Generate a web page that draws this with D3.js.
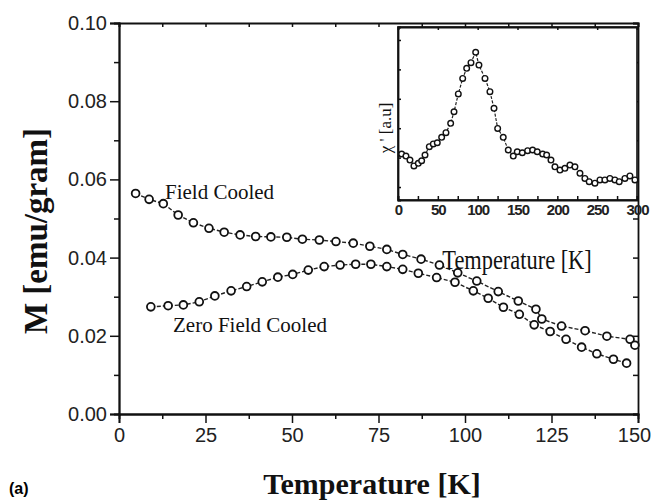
<!DOCTYPE html>
<html>
<head>
  <meta charset="utf-8">
  <title>Magnetization vs Temperature</title>
  <script src="https://d3js.org/d3.v7.min.js"></script>
  <style>
    body { margin: 0; background: #fff; }
    .tick-label { font-family: "Liberation Sans", Arial, sans-serif; fill: #222; }
    .serif { font-family: "Liberation Serif", "DejaVu Serif", serif; fill: #111; }
  </style>
</head>
<body>
  <div id="vis"></div>
  <script>
    const width = 652
    const height = 500

    // main panel: field cooled / zero field cooled
    const fcTemp = [4.8, 8.7, 12.8, 17.1, 21.5, 26.0, 30.4, 35.0, 39.5, 43.9, 48.5, 53.0, 57.9, 62.7, 67.7, 72.5, 77.4,
      82.0, 87.3, 92.6, 97.9, 103.4, 109.6, 115.4, 120.5, 122.2, 127.9, 134.7, 141.0, 147.7, 149.1]
    const fcM = [0.0564, 0.0549, 0.0538, 0.0509, 0.0489, 0.0475, 0.0465, 0.0458, 0.0454, 0.0453, 0.0452, 0.0447, 0.0445, 0.0441, 0.0437, 0.0429, 0.0421,
      0.0408, 0.0396, 0.0381, 0.0361, 0.0340, 0.0313, 0.0289, 0.0268, 0.0243, 0.0225, 0.0213, 0.0199, 0.0191, 0.0176]

    const zfcTemp = [9.2, 14.2, 18.6, 23.2, 27.7, 32.4, 36.9, 41.4, 45.9, 50.2, 54.7, 59.3, 63.9, 68.4, 72.8, 77.4,
      82.0, 86.5, 91.8, 97.1, 102.4, 106.7, 111.1, 115.7, 120.0, 124.6, 129.2, 133.7, 138.1, 142.9, 146.7]
    const zfcM = [0.0274, 0.0277, 0.0279, 0.0287, 0.0302, 0.0315, 0.0326, 0.0338, 0.0350, 0.0357, 0.0368, 0.0377, 0.0381, 0.0383, 0.0383, 0.0377,
      0.0370, 0.0360, 0.0349, 0.0337, 0.0315, 0.0296, 0.0273, 0.0255, 0.0228, 0.0211, 0.0191, 0.0171, 0.0154, 0.0140, 0.0130]

    const xTicks = [0, 25, 50, 75, 100, 125, 150]
    const yTicks = [0.00, 0.02, 0.04, 0.06, 0.08, 0.10]

    // inset: ac susceptibility (arbitrary units)
    const chiTemp = [4.6, 10, 15, 20, 25.5, 29.7, 33.9, 39.3, 44.3, 49.3, 54.8, 60.2, 66.1, 70.3, 75.7, 81.2, 86.2, 91.6, 97.5,
      101.6, 109.2, 115.4, 120.5, 125.1, 132.1, 138.4, 144.7, 149.7, 156.0, 162.7, 169.0, 174.8, 181.6, 186.6, 192.0, 197.0,
      203.3, 209.5, 215.8, 222.1, 228.4, 234.6, 240.0, 247.2, 253.5, 259.7, 266.0, 272.3, 277.7, 284.8, 291.1, 297.4]
    const chiVal = [0.266, 0.254, 0.231, 0.197, 0.212, 0.227, 0.260, 0.308, 0.324, 0.331, 0.362, 0.389, 0.443, 0.510, 0.613, 0.703, 0.761, 0.794, 0.854,
      0.780, 0.703, 0.626, 0.530, 0.414, 0.362, 0.289, 0.254, 0.279, 0.273, 0.285, 0.289, 0.279, 0.266, 0.260, 0.231, 0.192,
      0.173, 0.183, 0.202, 0.192, 0.154, 0.125, 0.106, 0.097, 0.116, 0.116, 0.125, 0.116, 0.106, 0.125, 0.139, 0.116]
    const insetXTicks = [0, 50, 100, 150, 200, 250, 300]

    const svg = d3.select("#vis")
      .append("svg")
      .attr("width", width)
      .attr("height", height)

    const x = d3.scaleLinear().domain([0, 150]).range([119, 638])
    const y = d3.scaleLinear().domain([0, 0.1]).range([414, 23])

    function styleAxis(g) {
      g.select(".domain").attr("stroke", "#111").attr("stroke-width", 1.8)
      g.selectAll(".tick line").attr("stroke", "#111").attr("stroke-width", 1.5)
    }

    // minor ticks first, then the labelled axes
    svg.append("g")
      .attr("transform", "translate(0,414)")
      .call(d3.axisBottom(x).tickValues(d3.range(12.5, 150, 25)).tickSize(5).tickFormat(""))
      .call(styleAxis)
    svg.append("g")
      .attr("transform", "translate(119,0)")
      .call(d3.axisLeft(y).tickValues(d3.range(0.01, 0.1, 0.02)).tickSize(5).tickFormat(""))
      .call(styleAxis)

    const xAxis = svg.append("g")
      .attr("transform", "translate(0,414)")
      .call(d3.axisBottom(x).tickValues(xTicks).tickSize(9).tickPadding(5).tickFormat(d3.format("d")))
      .call(styleAxis)
    const yAxis = svg.append("g")
      .attr("transform", "translate(119,0)")
      .call(d3.axisLeft(y).tickValues(yTicks).tickSize(9).tickPadding(3).tickFormat(d3.format(".2f")))
      .call(styleAxis)
    svg.selectAll("g text").attr("class", "tick-label").attr("font-size", 20)
    xAxis.selectAll("text").filter(d => d === 150).attr("dx", -4)

    // top and right borders, inward ticks
    svg.append("g")
      .attr("transform", "translate(0,23)")
      .call(d3.axisBottom(x).tickValues(d3.range(0, 151, 12.5)).tickSize(4).tickFormat(""))
      .call(styleAxis)
    svg.append("g")
      .attr("transform", "translate(638,0)")
      .call(d3.axisLeft(y).tickValues(d3.range(0, 0.101, 0.01)).tickSize(5).tickFormat(""))
      .call(styleAxis)

    const mainLine = d3.line().x(d => x(d[0])).y(d => y(d[1]))
    const series = [d3.zip(fcTemp, fcM), d3.zip(zfcTemp, zfcM)]

    series.forEach(pts => {
      svg.append("path")
        .datum(pts)
        .attr("d", mainLine)
        .attr("fill", "none")
        .attr("stroke", "#222")
        .attr("stroke-width", 1.4)
        .attr("stroke-dasharray", "4,2")
      svg.append("g")
        .selectAll("circle")
        .data(pts)
        .join("circle")
        .attr("cx", d => x(d[0]))
        .attr("cy", d => y(d[1]))
        .attr("r", 3.9)
        .attr("fill", "#fff")
        .attr("stroke", "#111")
        .attr("stroke-width", 1.8)
    })

    svg.append("text").attr("class", "serif")
      .attr("x", 165).attr("y", 199).attr("font-size", 21)
      .text("Field Cooled")
    svg.append("text").attr("class", "serif")
      .attr("x", 173).attr("y", 332).attr("font-size", 21)
      .text("Zero Field Cooled")

    // axis titles
    svg.append("text").attr("class", "serif")
      .attr("transform", "translate(47,231) rotate(-90)")
      .attr("text-anchor", "middle")
      .attr("font-size", 33).attr("font-weight", "bold")
      .text("M [emu/gram]")
    svg.append("text").attr("class", "serif")
      .attr("x", 372).attr("y", 494)
      .attr("text-anchor", "middle")
      .attr("font-size", 30).attr("font-weight", "bold")
      .text("Temperature [K]")
    svg.append("text")
      .attr("x", 9).attr("y", 494)
      .attr("font-family", "Liberation Sans, Arial, sans-serif")
      .attr("font-size", 16).attr("font-weight", "bold")
      .text("(a)")

    // inset
    const ix = d3.scaleLinear().domain([0, 300]).range([398, 637])
    const iy = d3.scaleLinear().domain([0, 1]).range([200, 27])
    const inset = svg.append("g")

    inset.append("rect")
      .attr("x", 398).attr("y", 27).attr("width", 239).attr("height", 173)
      .attr("fill", "#fff").attr("stroke", "#111").attr("stroke-width", 1.6)

    inset.append("g")
      .attr("transform", "translate(0,200)")
      .call(d3.axisTop(ix).tickValues(d3.range(0, 301, 25)).tickSize(4).tickFormat(""))
      .call(styleAxis)
    inset.append("g")
      .attr("transform", "translate(0,200)")
      .call(d3.axisBottom(ix).tickValues(insetXTicks).tickSize(0).tickPadding(4).tickFormat(d3.format("d")))
      .call(g => g.select(".domain").remove())
      .selectAll("text")
      .attr("class", "tick-label")
      .attr("font-size", 15)
      .attr("font-weight", "bold")
      .attr("letter-spacing", -1)
    inset.append("g")
      .attr("transform", "translate(0,27)")
      .call(d3.axisBottom(ix).tickValues(d3.range(0, 301, 50)).tickSize(3).tickFormat(""))
      .call(styleAxis)
    inset.append("g")
      .attr("transform", "translate(398,0)")
      .call(d3.axisRight(iy).tickValues(d3.range(0.075, 1, 0.17)).tickSize(3).tickFormat(""))
      .call(styleAxis)

    const insetLine = d3.line().x(d => ix(d[0])).y(d => iy(d[1]))
    const chiPts = d3.zip(chiTemp, chiVal)
    inset.append("path")
      .datum(chiPts)
      .attr("d", insetLine)
      .attr("fill", "none")
      .attr("stroke", "#222")
      .attr("stroke-width", 1.2)
      .attr("stroke-dasharray", "3,1.5")
    inset.append("g")
      .selectAll("circle")
      .data(chiPts)
      .join("circle")
      .attr("cx", d => ix(d[0]))
      .attr("cy", d => iy(d[1]))
      .attr("r", 2.8)
      .attr("fill", "#fff")
      .attr("stroke", "#111")
      .attr("stroke-width", 1.4)

    inset.append("text").attr("class", "serif")
      .attr("transform", "translate(391,128) rotate(-90)")
      .attr("text-anchor", "middle")
      .attr("font-size", 17)
      .text("χ ' [a.u]")
    inset.append("text").attr("class", "serif")
      .attr("transform", "translate(517,269) scale(0.8,1)")
      .attr("text-anchor", "middle")
      .attr("font-size", 28)
      .text("Temperature [K]")
  </script>
</body>
</html>
